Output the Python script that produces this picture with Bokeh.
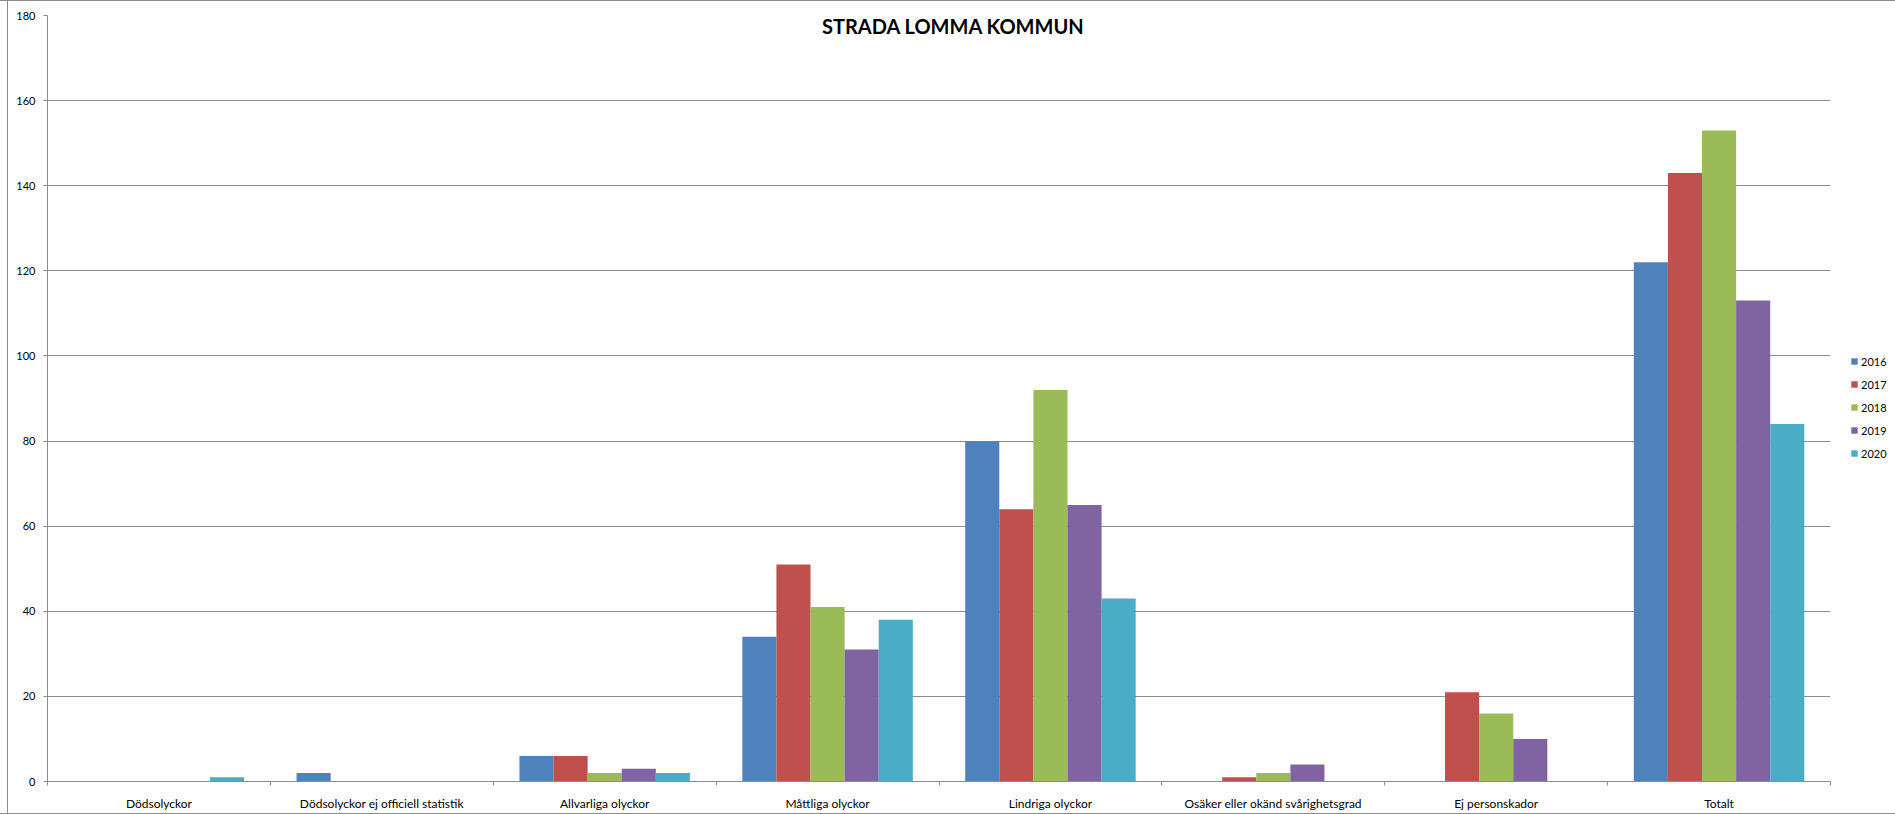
from bokeh.plotting import figure
from bokeh.models import Range1d, FixedTicker, Legend, LegendItem, Label
from bokeh.embed import file_html
from bokeh.resources import INLINE

categories = ["Dödsolyckor", "Dödsolyckor ej officiell statistik", "Allvarliga olyckor",
              "Måttliga olyckor", "Lindriga olyckor", "Osäker eller okänd svårighetsgrad",
              "Ej personskador", "Totalt"]
years = ["2016", "2017", "2018", "2019", "2020"]
v2016 = [0, 2, 6, 34, 80, 0, 0, 122]
v2017 = [0, 0, 6, 51, 64, 1, 21, 143]
v2018 = [0, 0, 2, 41, 92, 2, 16, 153]
v2019 = [0, 0, 3, 31, 65, 4, 10, 113]
v2020 = [1, 0, 2, 38, 43, 0, 0, 84]
series = [v2016, v2017, v2018, v2019, v2020]
colors = ["#4F81BD", "#C0504D", "#9BBB59", "#8064A2", "#4BACC6"]
y_ticks = list(range(0, 181, 20))

FONT = "Lato"
GRID = "#8c8c8c"
BORDER = "#8c8c8c"

p = figure(frame_width=1783, frame_height=766,
           min_border_left=47, min_border_right=65, min_border_top=15, min_border_bottom=33,
           x_range=Range1d(0, len(categories)), y_range=Range1d(0, 180),
           output_backend="svg", toolbar_location=None,
           styles={
               "background": "linear-gradient(to right, transparent 7px, %s 7px, %s 8px, transparent 8px), white" % (BORDER, BORDER),
               "box-shadow": "inset 0 1px 0 %s, inset 0 -1px 0 %s" % (BORDER, BORDER),
           })
p.outline_line_color = None
p.background_fill_color = "white"
p.border_fill_color = None

bw = 0.153
renderers = []
for j, (yr, vals, col) in enumerate(zip(years, series, colors)):
    xs = [i + 0.5 + (j - 2) * bw for i in range(len(categories))]
    r = p.vbar(x=xs, top=vals, width=bw, fill_color=col, line_color=None)
    renderers.append(r)

# x axis
p.xaxis.ticker = FixedTicker(ticks=[i + 0.5 for i in range(len(categories))],
                             minor_ticks=list(range(len(categories) + 1)))
p.xaxis.major_label_overrides = {i + 0.5: c for i, c in enumerate(categories)}
p.xaxis.major_tick_line_color = None
p.xaxis.major_tick_out = 0
p.xaxis.major_tick_in = 0
p.xaxis.minor_tick_out = 4
p.xaxis.minor_tick_in = 0
p.xaxis.minor_tick_line_color = GRID
p.xaxis.axis_line_color = GRID
p.xaxis.major_label_standoff = 10
p.xaxis.major_label_text_font = FONT
p.xaxis.major_label_text_font_size = "12px"
p.xaxis.major_label_text_color = "black"
p.xgrid.visible = False

# y axis
p.yaxis.ticker = FixedTicker(ticks=y_ticks, minor_ticks=[])
p.yaxis.major_tick_out = 4
p.yaxis.major_tick_in = 0
p.yaxis.major_tick_line_color = GRID
p.yaxis.minor_tick_line_color = None
p.yaxis.axis_line_color = GRID
p.yaxis.major_label_standoff = 8
p.yaxis.major_label_text_font = FONT
p.yaxis.major_label_text_font_size = "11px"
p.yaxis.major_label_text_color = "black"
p.ygrid.ticker = FixedTicker(ticks=y_ticks)
p.ygrid.grid_line_color = GRID
p.ygrid.grid_line_width = 1

title = Label(x=906, y=756, x_units="screen", y_units="screen",
              text="STRADA LOMMA KOMMUN", text_font=FONT, text_font_size="20px",
              text_font_style="bold", text_align="center", text_baseline="middle",
              text_color="black")
p.add_layout(title)

legend = Legend(items=[LegendItem(label=yr, renderers=[r]) for yr, r in zip(years, renderers)],
                location=(20, 318), orientation="vertical",
                glyph_width=8, glyph_height=8, label_standoff=3, label_height=20,
                padding=0, margin=0, spacing=3,
                border_line_color=None, background_fill_alpha=0,
                label_text_font=FONT, label_text_font_size="11px", label_text_color="black")
p.add_layout(legend, "right")

open("out.html", "w").write(file_html(p, INLINE))
